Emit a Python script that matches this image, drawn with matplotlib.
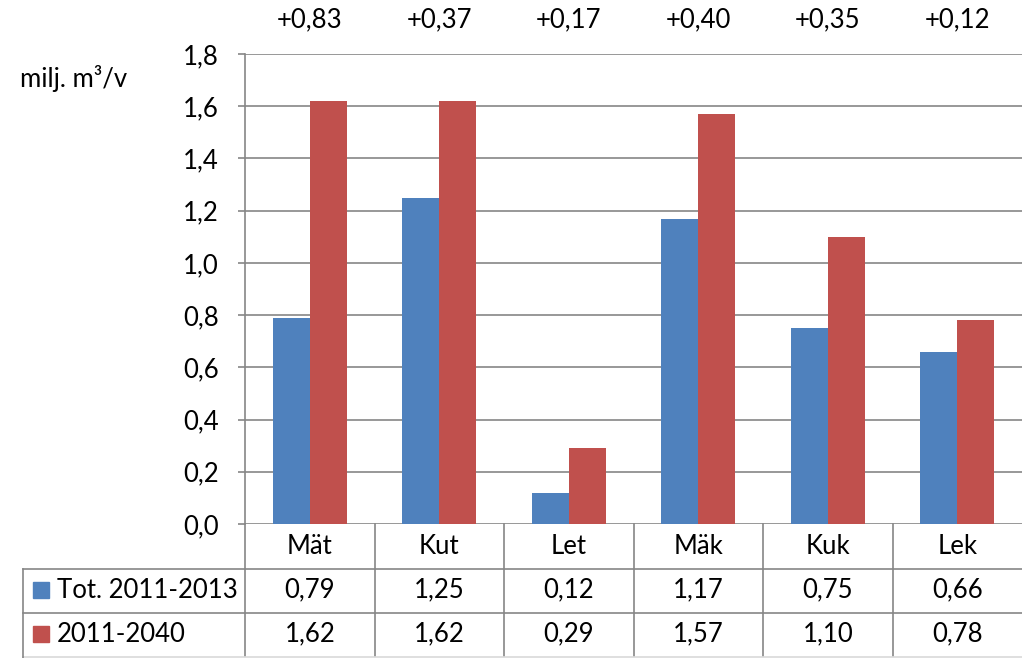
import matplotlib
matplotlib.use("Agg")
import matplotlib.pyplot as plt
from matplotlib.patches import Rectangle
from matplotlib.lines import Line2D

categories = ["Mät", "Kut", "Let", "Mäk", "Kuk", "Lek"]
series_names = ["Tot. 2011-2013", "2011-2040"]
tot_2011_2013 = [0.79, 1.25, 0.12, 1.17, 0.75, 0.66]
y_2011_2040 = [1.62, 1.62, 0.29, 1.57, 1.10, 0.78]
yticks = [0.0, 0.2, 0.4, 0.6, 0.8, 1.0, 1.2, 1.4, 1.6, 1.8]
colors = ["#4F81BD", "#C0504D"]
grid_color = "#868686"

plt.rcParams['font.family'] = ['Lato', 'DejaVu Sans']
FS = 18.5

W, H = 1022, 658
fig = plt.figure(figsize=(W / 100, H / 100), dpi=100)
left, right, top, bottom = 245, 1022, 54, 524
ax = fig.add_axes([left / W, 1 - bottom / H, (right - left) / W, (bottom - top) / H])

n = len(categories)
x = list(range(n))
bw = 0.285
ax.bar([i - bw / 2 for i in x], tot_2011_2013, width=bw, color=colors[0], zorder=3)
ax.bar([i + bw / 2 for i in x], y_2011_2040, width=bw, color=colors[1], zorder=3)

ax.set_xlim(-0.5, n - 0.5)
ax.set_ylim(0, 1.8)
ax.set_yticks(yticks)
ax.set_yticklabels([f"{v:.1f}".replace(".", ",") for v in yticks], fontsize=FS)
ax.tick_params(axis='y', length=5, width=1.2, color=grid_color, pad=14)
ax.set_xticks([])
ax.yaxis.grid(True, color=grid_color, linewidth=1.2, zorder=0)
for s in ["top", "right", "bottom"]:
    ax.spines[s].set_visible(False)
ax.spines["left"].set_color(grid_color)
ax.spines["left"].set_linewidth(1.2)

# difference labels above
for i in x:
    d = y_2011_2040[i] - tot_2011_2013[i]
    ax.text(i, 1 + 34 / (bottom - top), f"+{d:.2f}".replace(".", ","),
            transform=ax.get_xaxis_transform(), ha="center", va="center", fontsize=FS)

# y-axis title
fig.text(74 / W, 1 - 78 / H, "milj. m³/v", ha="center", va="center", fontsize=FS)

# data table
ph = bottom - top
row_h = 44
def ya(py):
    return -(py - bottom) / ph

tr = ax.get_xaxis_transform()
lw = 1.2
for b in range(n):
    ax.add_line(Line2D([b - 0.5, b - 0.5], [0, ya(bottom + 3 * row_h)], transform=tr,
                       color=grid_color, lw=lw, clip_on=False))
for py in [bottom + row_h, bottom + 2 * row_h]:
    fig.add_artist(Line2D([23 / W, 1.0], [1 - (py + 1) / H] * 2, color=grid_color, lw=lw))
fig.add_artist(Line2D([23 / W, 1.0], [1 - (bottom + 3 * row_h + 1) / H] * 2, color="#D9D9D9", lw=lw))
fig.add_artist(Line2D([23 / W] * 2, [1 - (bottom + row_h + 1) / H, 0], color=grid_color, lw=lw))

for i, c in enumerate(categories):
    ax.text(i, ya(bottom + row_h / 2), c, transform=tr, ha="center", va="center", fontsize=FS)
for r, vals in enumerate([tot_2011_2013, y_2011_2040]):
    yc = ya(bottom + row_h * (r + 1.5))
    for i, v in enumerate(vals):
        ax.text(i, yc, f"{v:.2f}".replace(".", ","), transform=tr, ha="center", va="center", fontsize=FS)
    ypix = bottom + row_h * (r + 1.5)
    fig.add_artist(Rectangle((33 / W, 1 - (ypix + 8) / H), 16 / W, 16 / H,
                             color=colors[r], transform=fig.transFigure))
    fig.text(57 / W, 1 - (ypix + 1) / H, series_names[r], ha="left", va="center", fontsize=FS)

fig.savefig("out.png", dpi=100)
